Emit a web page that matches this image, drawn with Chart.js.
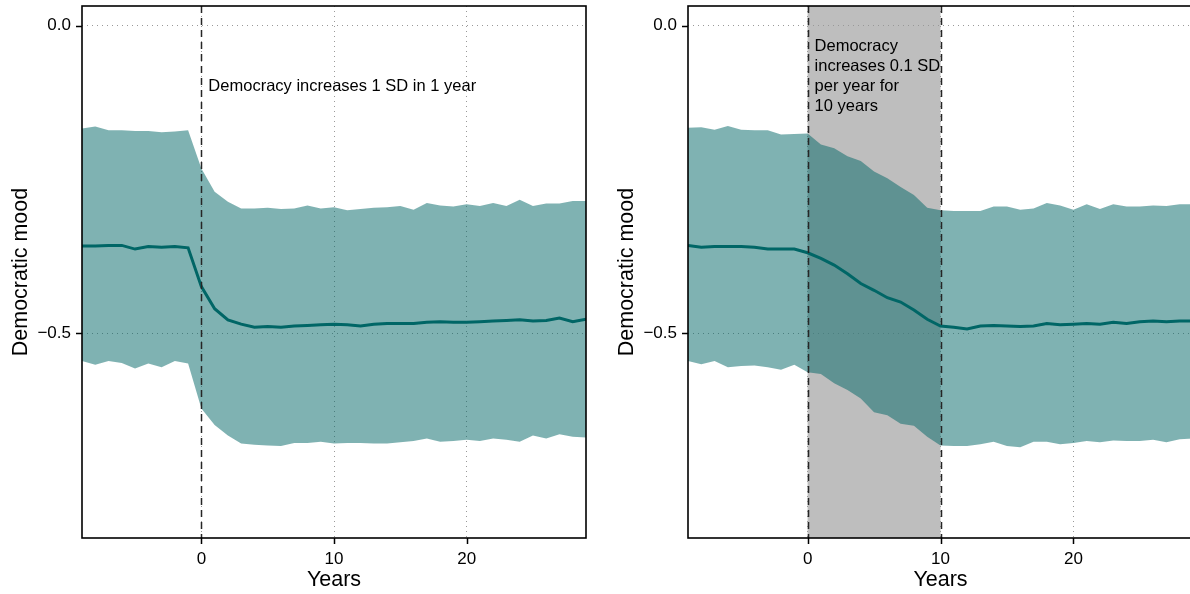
<!DOCTYPE html>
<html>
<head>
<meta charset="utf-8">
<script src="https://cdn.jsdelivr.net/npm/chart.js@4.4.0/dist/chart.umd.min.js"></script>
<style>
    html, body { margin: 0; padding: 0; background: #fff; overflow: hidden; width: 1190px; height: 594px; }
    canvas { position: absolute; top: 0; }
    #oneYearChart { left: 0; }
    #tenYearChart { left: 606px; }
</style>
</head>
<body>
<canvas id="oneYearChart" width="600" height="594"></canvas>
<canvas id="tenYearChart" width="601" height="594"></canvas>
<script>
// years relative to the democracy shock
const years = [-9, -8, -7, -6, -5, -4, -3, -2, -1, 0, 1, 2, 3, 4, 5, 6, 7, 8, 9, 10,
    11, 12, 13, 14, 15, 16, 17, 18, 19, 20, 21, 22, 23, 24, 25, 26, 27, 28, 29];

// left panel: democracy increases 1 SD in 1 year
const oneYearMean = [-0.358, -0.358, -0.357, -0.357, -0.363, -0.359, -0.360, -0.359, -0.361, -0.424,
    -0.460, -0.478, -0.485, -0.490, -0.489, -0.490, -0.488, -0.487, -0.486, -0.485,
    -0.486, -0.488, -0.485, -0.484, -0.484, -0.484, -0.482, -0.481, -0.482, -0.482,
    -0.481, -0.480, -0.479, -0.478, -0.480, -0.479, -0.475, -0.481, -0.477];
const oneYearUpper = [-0.167, -0.164, -0.170, -0.170, -0.171, -0.171, -0.173, -0.172, -0.170, -0.232,
    -0.270, -0.286, -0.297, -0.297, -0.296, -0.298, -0.297, -0.292, -0.297, -0.295,
    -0.300, -0.298, -0.296, -0.295, -0.293, -0.299, -0.288, -0.292, -0.294, -0.290,
    -0.293, -0.288, -0.293, -0.283, -0.293, -0.289, -0.289, -0.285, -0.285];
const oneYearLower = [-0.545, -0.551, -0.545, -0.548, -0.557, -0.549, -0.555, -0.545, -0.549, -0.622,
    -0.649, -0.666, -0.679, -0.681, -0.682, -0.683, -0.678, -0.678, -0.676, -0.679,
    -0.678, -0.678, -0.679, -0.679, -0.677, -0.675, -0.671, -0.676, -0.675, -0.673,
    -0.675, -0.671, -0.673, -0.676, -0.666, -0.671, -0.664, -0.668, -0.669];

// right panel: democracy increases 0.1 SD per year for 10 years
const tenYearMean = [-0.357, -0.360, -0.359, -0.359, -0.359, -0.360, -0.363, -0.363, -0.363, -0.369,
    -0.378, -0.389, -0.403, -0.419, -0.430, -0.442, -0.449, -0.462, -0.477, -0.488,
    -0.490, -0.493, -0.488, -0.487, -0.488, -0.489, -0.488, -0.484, -0.486, -0.485,
    -0.484, -0.485, -0.482, -0.484, -0.481, -0.480, -0.481, -0.480, -0.480];
const tenYearUpper = [-0.166, -0.165, -0.169, -0.163, -0.169, -0.170, -0.170, -0.177, -0.176, -0.175,
    -0.193, -0.199, -0.212, -0.220, -0.237, -0.248, -0.262, -0.275, -0.296, -0.300,
    -0.301, -0.301, -0.301, -0.294, -0.294, -0.299, -0.297, -0.288, -0.292, -0.299,
    -0.290, -0.298, -0.290, -0.294, -0.294, -0.292, -0.293, -0.290, -0.290];
const tenYearLower = [-0.545, -0.550, -0.545, -0.555, -0.553, -0.552, -0.555, -0.559, -0.551, -0.563,
    -0.566, -0.581, -0.592, -0.606, -0.628, -0.633, -0.647, -0.650, -0.668, -0.682,
    -0.683, -0.683, -0.680, -0.676, -0.683, -0.685, -0.676, -0.676, -0.680, -0.678,
    -0.675, -0.677, -0.674, -0.675, -0.675, -0.673, -0.677, -0.672, -0.671];

const xTicks = [0, 10, 20];
const yTicks = [0, -0.5];

const FONT = '"Liberation Sans", Arial, Helvetica, sans-serif';
const TEAL = '#006666';
const BAND = 'rgba(0, 102, 102, 0.5)';
const TICK_LEN = 6;

const pairs = arr => years.map((x, i) => ({ x, y: arr[i] }));

// shaded treatment period, dashed markers, box, tick marks and the note text
const panelDecor = {
    id: 'panelDecor',
    beforeDraw(chart, args, opts) {
        if (!opts.shade) return;
        const { ctx, chartArea: a, scales: { x } } = chart;
        const x0 = x.getPixelForValue(opts.shade[0]);
        const x1 = x.getPixelForValue(opts.shade[1]);
        ctx.save();
        ctx.fillStyle = '#bebebe';
        ctx.fillRect(x0, a.top, x1 - x0, a.bottom - a.top);
        ctx.restore();
    },
    afterDatasetsDraw(chart, args, opts) {
        const { ctx, chartArea: a, scales: { x, y } } = chart;
        ctx.save();
        ctx.strokeStyle = '#262626';
        ctx.lineWidth = 1.5;
        ctx.setLineDash([7, 5]);
        opts.marks.forEach(v => {
            const px = Math.round(x.getPixelForValue(v)) + 0.5;
            ctx.beginPath();
            ctx.moveTo(px, a.top);
            ctx.lineTo(px, a.bottom);
            ctx.stroke();
        });
        ctx.setLineDash([]);
        ctx.strokeStyle = '#000';
        ctx.lineWidth = 1.6;
        ctx.strokeRect(a.left, a.top, a.right - a.left, a.bottom - a.top);
        // outward tick marks
        ctx.lineWidth = 1.5;
        ctx.beginPath();
        xTicks.forEach(v => {
            const px = Math.round(x.getPixelForValue(v)) + 0.5;
            ctx.moveTo(px, a.bottom);
            ctx.lineTo(px, a.bottom + TICK_LEN);
        });
        yTicks.forEach(v => {
            const py = Math.round(y.getPixelForValue(v)) + 0.5;
            ctx.moveTo(a.left, py);
            ctx.lineTo(a.left - TICK_LEN, py);
        });
        ctx.stroke();
        ctx.restore();
    },
    afterDraw(chart, args, opts) {
        const { ctx, scales: { x, y } } = chart;
        ctx.save();
        ctx.font = '16.5px ' + FONT;
        ctx.fillStyle = '#000';
        ctx.textAlign = 'left';
        ctx.textBaseline = 'middle';
        const tx = x.getPixelForValue(opts.noteX) + 7;
        const ty = y.getPixelForValue(opts.noteY);
        opts.note.forEach((line, i) => ctx.fillText(line, tx, ty + i * 20.2));
        ctx.restore();
    }
};

function makePanel(canvasId, mean, upper, lower, decor) {
    return new Chart(document.getElementById(canvasId), {
        type: 'line',
        data: {
            datasets: [
                { data: pairs(mean), borderColor: TEAL, borderWidth: 3, pointRadius: 0, fill: false, tension: 0 },
                { data: pairs(upper), borderWidth: 0, borderColor: 'rgba(0,0,0,0)', pointRadius: 0, fill: '+1', backgroundColor: BAND },
                { data: pairs(lower), borderWidth: 0, borderColor: 'rgba(0,0,0,0)', pointRadius: 0, fill: false }
            ]
        },
        options: {
            responsive: false,
            animation: false,
            layout: { padding: { left: 0, right: 14, top: 6, bottom: 0 } },
            plugins: {
                legend: { display: false },
                tooltip: { enabled: false },
                panelDecor: decor
            },
            scales: {
                x: {
                    type: 'linear',
                    min: -9,
                    max: 29,
                    afterBuildTicks: s => { s.ticks = xTicks.map(v => ({ value: v })); },
                    afterFit: s => { s.height = 56; s.paddingLeft = 0; s.paddingRight = 0; },
                    border: { display: false, dash: [1, 4] },
                    grid: { color: '#999', lineWidth: 1, borderDash: [1, 4], drawTicks: false },
                    ticks: { font: { size: 17, family: FONT }, color: '#000', padding: 11, maxRotation: 0 },
                    title: { display: true, text: 'Years', font: { size: 21.5, family: FONT }, color: '#000', padding: { top: 0, bottom: 1 } }
                },
                y: {
                    min: -0.8325,
                    max: 0.032,
                    afterBuildTicks: s => { s.ticks = yTicks.map(v => ({ value: v })); },
                    afterFit: s => { s.width = 82; s.paddingTop = 0; s.paddingBottom = 0; },
                    border: { display: false, dash: [1, 4] },
                    grid: { color: '#999', lineWidth: 1, borderDash: [1, 4], drawTicks: false },
                    ticks: {
                        font: { size: 17, family: FONT }, color: '#000', padding: 11,
                        callback: v => (v < 0 ? '\u2212' : '') + Math.abs(v).toFixed(1)
                    },
                    title: { display: true, text: 'Democratic mood', font: { size: 21.5, family: FONT }, color: '#000', padding: { top: 8, bottom: 0 } }
                }
            }
        },
        plugins: [panelDecor]
    });
}

window.addEventListener('load', () => {
    makePanel('oneYearChart', oneYearMean, oneYearUpper, oneYearLower, {
        shade: null, marks: [0], noteX: 0, noteY: -0.099,
        note: ['Democracy increases 1 SD in 1 year']
    });
    makePanel('tenYearChart', tenYearMean, tenYearUpper, tenYearLower, {
        shade: [0, 10], marks: [0, 10], noteX: 0, noteY: -0.033,
        note: ['Democracy', 'increases 0.1 SD', 'per year for', '10 years']
    });
});
</script>
</body>
</html>
